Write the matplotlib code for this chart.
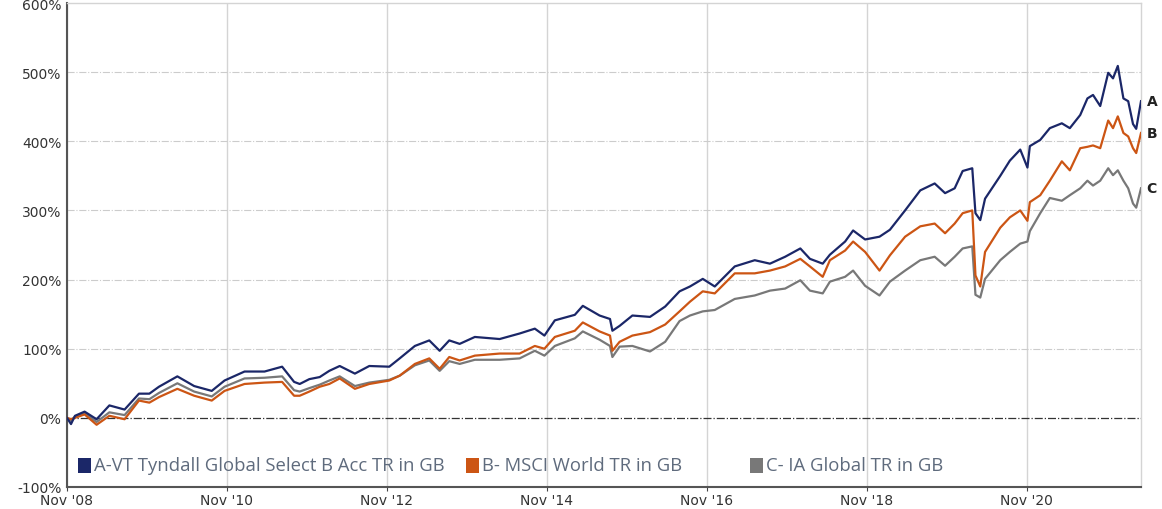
import matplotlib
matplotlib.use("Agg")
import matplotlib.pyplot as plt
from matplotlib.patches import Rectangle

# decimal years (Nov 2008 .. Apr 2022)
years = [2008.83, 2008.88, 2008.93, 2009.05, 2009.20, 2009.36, 2009.55, 2009.73, 2009.86, 2009.98,
         2010.21, 2010.42, 2010.64, 2010.80, 2011.05, 2011.30, 2011.52, 2011.67, 2011.74, 2011.86,
         2011.99, 2012.11, 2012.24, 2012.43, 2012.61, 2012.86, 2012.99, 2013.18, 2013.36, 2013.49,
         2013.61, 2013.74, 2013.93, 2014.24, 2014.49, 2014.68, 2014.80, 2014.93, 2015.18, 2015.28,
         2015.49, 2015.62, 2015.65, 2015.74, 2015.90, 2016.12, 2016.31, 2016.49, 2016.62, 2016.78,
         2016.93, 2017.18, 2017.43, 2017.62, 2017.81, 2018.00, 2018.12, 2018.28, 2018.37, 2018.56,
         2018.66, 2018.81, 2018.99, 2019.12, 2019.31, 2019.50, 2019.68, 2019.81, 2019.93, 2020.03,
         2020.15, 2020.19, 2020.25, 2020.31, 2020.50, 2020.62, 2020.75, 2020.84, 2020.87, 2021.00,
         2021.12, 2021.27, 2021.37, 2021.50, 2021.59, 2021.66, 2021.75, 2021.85, 2021.91, 2021.97,
         2022.04, 2022.10, 2022.16, 2022.20, 2022.26]

fund_a = [0, -9, 3, 9, -2, 18, 12, 35, 35, 45,
          60, 46, 39, 54, 67, 67, 74, 52, 49, 56,
          59, 68, 75, 64, 75, 74, 86, 104, 112, 97,
          112, 107, 117, 114, 122, 129, 119, 141, 149, 162,
          148, 143, 126, 133, 148, 146, 161, 183, 190, 201,
          190, 219, 228, 223, 233, 245, 230, 223, 236, 255,
          271, 258, 262, 272, 300, 329, 339, 325, 332, 357,
          361, 296, 286, 317, 350, 372, 388, 362, 393, 402,
          419, 426, 419, 438, 462, 467, 451, 499, 491, 509,
          462, 458, 425, 418, 458]

msci_b = [0, -2, 0, 5, -10, 3, -2, 25, 22, 30,
          42, 32, 25, 39, 49, 51, 52, 32, 32, 38,
          45, 49, 57, 42, 49, 54, 61, 78, 86, 71,
          88, 83, 90, 93, 93, 104, 100, 117, 126, 138,
          125, 119, 97, 110, 119, 124, 135, 154, 168, 183,
          180, 209, 209, 213, 219, 230, 219, 204, 228, 242,
          255, 240, 213, 235, 262, 277, 281, 267, 281, 296,
          300, 206, 190, 240, 275, 290, 300, 285, 312, 322,
          343, 371, 358, 390, 392, 394, 390, 430, 419, 436,
          412, 407, 390, 383, 412]

sector_c = [0, -4, 2, 7, -6, 8, 4, 28, 27, 36,
            50, 38, 31, 45, 57, 58, 60, 40, 38, 43,
            48, 54, 60, 46, 51, 55, 61, 76, 83, 68,
            82, 78, 84, 84, 86, 97, 90, 104, 115, 125,
            113, 104, 88, 103, 104, 96, 110, 140, 148, 154,
            156, 172, 177, 184, 187, 199, 184, 180, 197, 204,
            213, 191, 177, 197, 213, 228, 233, 220, 233, 245,
            248, 178, 174, 201, 228, 240, 252, 255, 270, 296,
            318, 314, 322, 332, 343, 336, 343, 361, 351, 358,
            343, 332, 310, 304, 332]

names = ["A-VT Tyndall Global Select B Acc TR in GB", "B- MSCI World TR in GB", "C- IA Global TR in GB"]
tags = ["A", "B", "C"]
colors = ["#1b2768", "#cc5514", "#787878"]

xtick_pos = [2008.83, 2010.83, 2012.83, 2014.83, 2016.83, 2018.83, 2020.83]
xtick_labels = ["Nov '08", "Nov '10", "Nov '12", "Nov '14", "Nov '16", "Nov '18", "Nov '20"]
ytick_pos = [-100, 0, 100, 200, 300, 400, 500, 600]

fig = plt.figure(figsize=(11.62, 5.10), dpi=100)
ax = fig.add_axes([67 / 1162, 22 / 510, (1141 - 67) / 1162, 484 / 510])

series = [fund_a, msci_b, sector_c]
for i in [2, 1, 0]:
    ax.plot(years, series[i], color=colors[i], lw=1.6, zorder=3 + (2 - i))

ax.set_xlim(2008.83, 2022.26)
ax.set_ylim(-100, 600)

ax.set_xticks(xtick_pos)
ax.set_xticklabels(xtick_labels, fontsize=10, color="#333333")
ax.set_yticks(ytick_pos)
ax.set_yticklabels([f"{v}%" for v in ytick_pos], fontsize=10, color="#333333")
ax.tick_params(axis="y", length=0, pad=4)
ax.tick_params(axis="x", length=3, pad=1, color="#444444")

ax.grid(axis="x", color="#d4d4d4", lw=1, ls="-")
for v in ytick_pos[2:-1]:
    ax.axhline(v, color="#cccccc", lw=0.8, ls="-.", zorder=1)
ax.axhline(0, color="#333333", lw=0.9, ls="-.", zorder=2)
ax.set_axisbelow(True)

for s in ["left", "bottom"]:
    ax.spines[s].set_color("#555555")
    ax.spines[s].set_linewidth(1.5)
for s in ["top", "right"]:
    ax.spines[s].set_color("#d4d4d4")
    ax.spines[s].set_linewidth(1)

# end labels
for i in range(3):
    ax.annotate(tags[i], xy=(years[-1], series[i][-1]), xytext=(4, 0), textcoords="offset points",
                ha="left", va="center", fontsize=10, fontweight="bold", color="#222222",
                annotation_clip=False)

# legend squares + text along bottom
leg_x = [78, 466, 750]
for i in range(3):
    fig.patches.append(Rectangle((leg_x[i], 510 - 474), 13, 15, transform=None,
                                 facecolor=colors[i], edgecolor="none"))
    fig.text((leg_x[i] + 16) / 1162, (510 - 466) / 510, names[i], fontsize=13.3,
             family="Open Sans", color="#5f6b7d", va="center", ha="left")

fig.savefig("out.png", dpi=100)
